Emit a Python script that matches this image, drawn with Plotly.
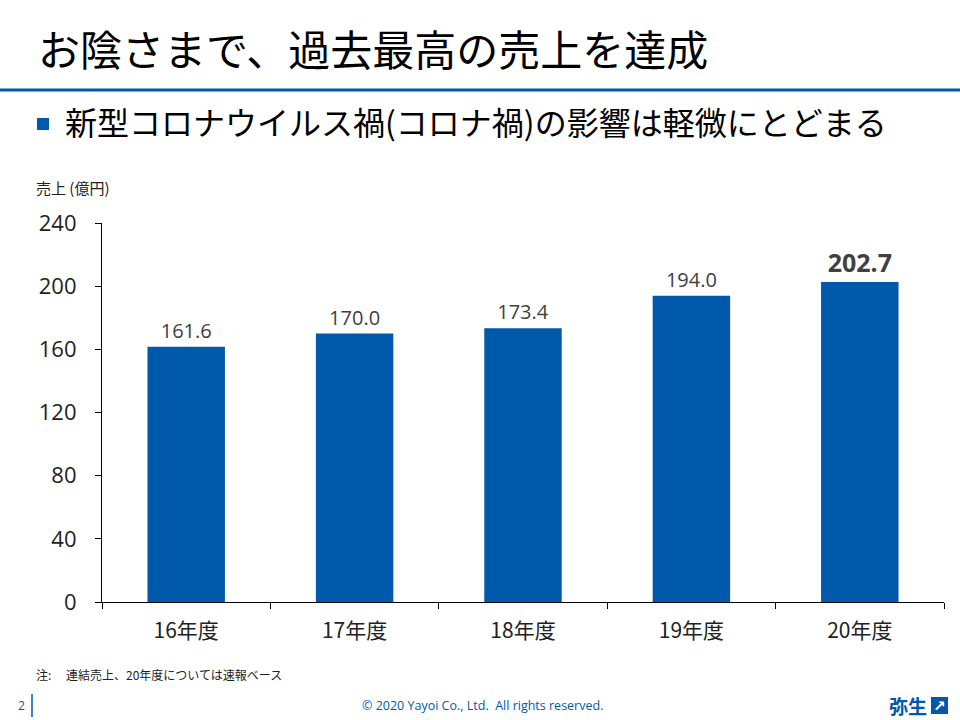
import plotly.graph_objects as go

categories = ["16年度", "17年度", "18年度", "19年度", "20年度"]
sales = [161.6, 170.0, 173.4, 194.0, 202.7]
y_ticks = [0, 40, 80, 120, 160, 200, 240]

BLUE = "#0059AB"
FONT = "Noto Sans CJK JP, Open Sans, sans-serif"

labels = [f"{v:.1f}" if i < len(sales) - 1 else f"<b>{v:.1f}</b>" for i, v in enumerate(sales)]
label_sizes = [20] * (len(sales) - 1) + [25]

fig = go.Figure()
fig.add_trace(go.Bar(
    x=categories, y=sales, width=0.46,
    marker=dict(color=BLUE, line=dict(width=0)),
    text=labels, textposition="outside",
    textfont=dict(size=label_sizes, color="#404040", family="Open Sans, sans-serif"),
    cliponaxis=False,
))

fig.update_layout(
    width=960, height=720,
    margin=dict(l=102, r=16, t=223, b=118),
    plot_bgcolor="white", paper_bgcolor="white",
    showlegend=False,
    font=dict(family=FONT, color="#222"),
    xaxis=dict(
        type="category", range=[-0.5, 4.5], tickson="boundaries",
        ticks="outside", ticklen=6, tickcolor="black", tickwidth=1,
        showline=True, linecolor="black", linewidth=1.2,
        showgrid=False, tickfont=dict(size=21, color="#222", family=FONT),
        ticklabelstandoff=10,
    ),
    yaxis=dict(
        range=[0, 240], tickvals=y_ticks, ticks="outside", ticklen=6,
        tickcolor="black", showline=True, linecolor="black", linewidth=1.2,
        showgrid=False, zeroline=False,
        tickfont=dict(size=22, color="#222", family="Open Sans, sans-serif"),
        ticklabelstandoff=14,
    ),
)

# Header
fig.add_annotation(xref="paper", yref="paper", x=(36 - 102) / 842, y=1 + (223 - 47) / 379,
                   xanchor="left", yanchor="middle", showarrow=False,
                   text="お陰さまで、過去最高の売上を達成",
                   font=dict(size=42, color="black", family=FONT))
fig.add_shape(type="line", xref="paper", yref="paper",
              x0=-102 / 842, x1=(960 - 102) / 842,
              y0=1 + (223 - 90) / 379, y1=1 + (223 - 90) / 379,
              line=dict(color=BLUE, width=3))
fig.add_shape(type="rect", xref="paper", yref="paper",
              x0=(37 - 102) / 842, x1=(49 - 102) / 842,
              y0=1 + (223 - 130) / 379, y1=1 + (223 - 118) / 379,
              fillcolor=BLUE, line=dict(width=0))
fig.add_annotation(xref="paper", yref="paper", x=(63 - 102) / 842, y=1 + (223 - 121) / 379,
                   xanchor="left", yanchor="middle", showarrow=False,
                   text="新型コロナウイルス禍(コロナ禍)の影響は軽微にとどまる",
                   font=dict(size=32, color="black", family=FONT))
fig.add_annotation(xref="paper", yref="paper", x=(34 - 102) / 842, y=1 + (223 - 188) / 379,
                   xanchor="left", yanchor="middle", showarrow=False,
                   text="売上 (億円)", font=dict(size=15, color="#222", family=FONT))

# Footer
fig.add_annotation(xref="paper", yref="paper", x=(34 - 102) / 842, y=-(674 - 602) / 379,
                   xanchor="left", yanchor="middle", showarrow=False,
                   text="注:　 連結売上、20年度については速報ベース",
                   font=dict(size=12, color="#222", family=FONT))
fig.add_annotation(xref="paper", yref="paper", x=(21 - 102) / 842, y=-(705 - 602) / 379,
                   xanchor="center", yanchor="middle", showarrow=False,
                   text="2", font=dict(size=12, color=BLUE, family="Open Sans, sans-serif"))
fig.add_shape(type="line", xref="paper", yref="paper",
              x0=(32 - 102) / 842, x1=(32 - 102) / 842,
              y0=-(717 - 602) / 379, y1=-(694 - 602) / 379,
              line=dict(color=BLUE, width=1.5))
fig.add_annotation(xref="paper", yref="paper", x=(482 - 102) / 842, y=-(705 - 602) / 379,
                   xanchor="center", yanchor="middle", showarrow=False,
                   text="© 2020 Yayoi Co., Ltd.  All rights reserved.",
                   font=dict(size=12.5, color=BLUE, family="Open Sans, sans-serif"))
fig.add_annotation(xref="paper", yref="paper", x=(929 - 102) / 842, y=-(705 - 602) / 379,
                   xanchor="right", yanchor="middle", showarrow=False,
                   text="<b>弥生</b>", font=dict(size=19, color=BLUE, family=FONT))
fig.add_shape(type="rect", xref="paper", yref="paper",
              x0=(931 - 102) / 842, x1=(948 - 102) / 842,
              y0=-(714 - 602) / 379, y1=-(697 - 602) / 379,
              fillcolor=BLUE, line=dict(width=0))
fig.add_annotation(xref="paper", yref="paper", x=(939.5 - 102) / 842, y=-(705.5 - 602) / 379,
                   xanchor="center", yanchor="middle", showarrow=False,
                   text="<b>↗</b>", font=dict(size=15, color="white", family="DejaVu Sans"))

fig.write_html("out.html")
